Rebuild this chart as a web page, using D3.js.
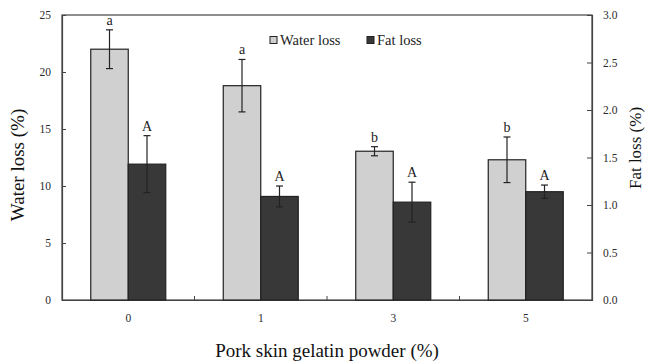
<!DOCTYPE html>
<html><head><meta charset="utf-8">
<script src="https://cdn.jsdelivr.net/npm/d3@7"></script>
<style>body{margin:0;background:#fff}svg{display:block}</style>
</head><body><svg id="c" width="647" height="363"></svg>
<script>
const categories = ["0","1","3","5"];
const waterLoss = [22.0, 18.8, 13.05, 12.3];
const waterErr = [1.7, 2.3, 0.4, 2.0];
const fatLoss = [1.43, 1.09, 1.03, 1.14];
const fatErr = [0.30, 0.11, 0.21, 0.07];
const waterLetters = ["a","a","b","b"];
const fatLetters = ["A","A","A","A"];
const leftTicks = [0,5,10,15,20,25];
const rightTicks = [0,0.5,1.0,1.5,2.0,2.5,3.0];

const svg = d3.select("#c");
const L=62, R=592, T=15, B=300;
const font = "'Liberation Serif','Times New Roman',serif";
const x = d3.scaleBand().domain(categories).range([L,R]);
const yL = d3.scaleLinear().domain([0,25]).range([B,T]);
const yR = d3.scaleLinear().domain([0,3]).range([B,T]);
const bw = 37.5;

// frame
svg.append("rect").attr("x",L).attr("y",T).attr("width",R-L).attr("height",B-T)
  .attr("fill","none").attr("stroke","#444").attr("stroke-width",1.2);

// left axis
const gl = svg.append("g").attr("transform",`translate(${L},0)`)
  .call(d3.axisLeft(yL).tickValues(leftTicks).tickSize(-4).tickPadding(11).tickFormat(d3.format("d")));
// right axis
const gr = svg.append("g").attr("transform",`translate(${R},0)`)
  .call(d3.axisRight(yR).tickValues(rightTicks).tickSize(-5).tickPadding(11).tickFormat(d3.format(".1f")));
// bottom axis (ticks between groups)
const gb = svg.append("g").attr("transform",`translate(0,${B})`)
  .call(d3.axisBottom(x).tickSize(0).tickPadding(14));
[gl,gr,gb].forEach(g=>{
  g.attr("font-family",font);
  g.select(".domain").attr("stroke","#444").attr("stroke-width",1.2);
  g.selectAll(".tick line").attr("stroke","#444");
  g.selectAll("text").attr("font-family",font).attr("font-size",11.5).attr("fill","#2a2a2a");
});
// separator ticks between categories
svg.append("g").selectAll("line").data(categories.slice(1)).join("line")
  .attr("x1",d=>x(d)).attr("x2",d=>x(d)).attr("y1",B).attr("y2",B-4).attr("stroke","#444");

// bars
const cx = d=>x(d)+x.bandwidth()/2;
svg.append("g").selectAll("rect").data(categories).join("rect")
  .attr("x",d=>cx(d)-bw).attr("width",bw)
  .attr("y",(d,i)=>yL(waterLoss[i])).attr("height",(d,i)=>B-yL(waterLoss[i]))
  .attr("fill","#d0d0d0").attr("stroke","#222").attr("stroke-width",1.2);
svg.append("g").selectAll("rect").data(categories).join("rect")
  .attr("x",d=>cx(d)).attr("width",bw)
  .attr("y",(d,i)=>yR(fatLoss[i])).attr("height",(d,i)=>B-yR(fatLoss[i]))
  .attr("fill","#383838").attr("stroke","#222").attr("stroke-width",1.2);

// error bars
function errBars(vals, errs, scale, off, letters){
  const g = svg.append("g");
  categories.forEach((c,i)=>{
    const xc = cx(c)+off;
    const y1 = scale(vals[i]+errs[i]), y2 = scale(vals[i]-errs[i]);
    g.append("line").attr("x1",xc).attr("x2",xc).attr("y1",y1).attr("y2",y2).attr("stroke","#222").attr("stroke-width",1.2);
    [y1,y2].forEach(yy=>g.append("line").attr("x1",xc-3.5).attr("x2",xc+3.5).attr("y1",yy).attr("y2",yy).attr("stroke","#222").attr("stroke-width",1.2));
    g.append("text").attr("x",xc).attr("y",y1-5).attr("text-anchor","middle")
      .attr("font-family",font).attr("font-size",14).attr("fill","#222").text(letters[i]);
  });
}
errBars(waterLoss, waterErr, yL, -bw/2, waterLetters);
errBars(fatLoss, fatErr, yR, bw/2, fatLetters);

// legend
const leg = [{t:"Water loss",f:"#d0d0d0",x:270},{t:"Fat loss",f:"#383838",x:367}];
leg.forEach(l=>{
  svg.append("rect").attr("x",l.x).attr("y",36.5).attr("width",7).attr("height",7)
    .attr("fill",l.f).attr("stroke","#222").attr("stroke-width",1);
  svg.append("text").attr("x",l.x+10).attr("y",45).attr("font-family",font).attr("font-size",14.5)
    .attr("fill","#222").text(l.t);
});

// axis titles
svg.append("text").attr("x",(L+R)/2).attr("y",357).attr("text-anchor","middle")
  .attr("font-family",font).attr("font-size",19).attr("fill","#111").text("Pork skin gelatin powder (%)");
svg.append("text").attr("transform",`translate(24,165) rotate(-90)`).attr("text-anchor","middle")
  .attr("font-family",font).attr("font-size",19).attr("fill","#111").text("Water loss (%)");
svg.append("text").attr("transform",`translate(641,148) rotate(-90)`).attr("text-anchor","middle")
  .attr("font-family",font).attr("font-size",17).attr("fill","#111").text("Fat loss (%)");
</script></body></html>
